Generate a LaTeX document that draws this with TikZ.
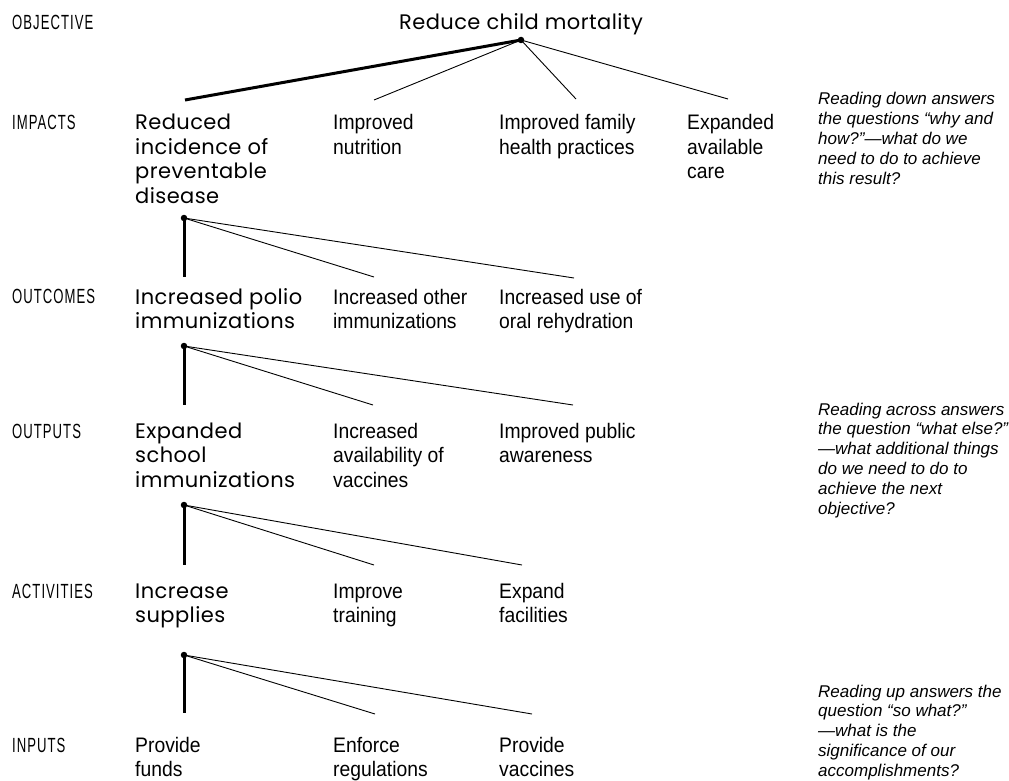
\documentclass[tikz,border=0pt]{standalone}
\usepackage{fontspec}
\setmainfont{Liberation Sans}
\newfontfamily\rowfont[FakeStretch=0.64,LetterSpace=5]{Liberation Sans}
\newfontfamily\geofont[LetterSpace=2]{Poppins}
\newfontfamily\narrowfont[FakeStretch=0.92]{Liberation Sans}
% lines stacked from the first baseline down
\newcommand\stacked[1]{\begin{tabular}[t]{@{}l@{}}#1\end{tabular}}

\tikzset{
  rowlabel/.style={anchor=base west,inner sep=0pt,font=\rowfont\fontsize{20.5}{20.5}\selectfont},
  mainbox/.style={anchor=base west,inner sep=0pt,font=\geofont\fontsize{21}{24.5}\selectfont},
  sidebox/.style={anchor=base west,inner sep=0pt,font=\narrowfont\fontsize{21}{24.5}\selectfont},
  note/.style={anchor=base west,inner sep=0pt,font=\itshape\fontsize{17}{19.9}\selectfont},
  dot/.style={circle,fill,inner sep=0pt,minimum size=6.5pt},
  main link/.style={line width=3pt},
  side link/.style={line width=0.9pt}
}

\begin{document}
\begin{tikzpicture}[x=1pt,y=-1pt]
	\useasboundingbox (0,0) rectangle (1009,781);
	% row labels
	\node[rowlabel] (objlab) at (12,30) {OBJECTIVE};
	\node[rowlabel] (implab) at (12,130) {IMPACTS};
	\node[rowlabel] (outclab) at (12,303) {OUTCOMES};
	\node[rowlabel] (outplab) at (12,438) {OUTPUTS};
	\node[rowlabel] (actlab) at (12,598) {ACTIVITIES};
	\node[rowlabel] (inplab) at (12,752) {INPUTS};

	% objective
	\node[mainbox,anchor=base] (obj) at (521,30) {Reduce child mortality};
	\node[dot] (objdot) at (521,40) {};

	% impacts
	\node[mainbox] (imp1) at (135,130) {\stacked{Reduced\\incidence of\\preventable\\disease}};
	\node[sidebox] (imp2) at (333,130) {\stacked{Improved\\nutrition}};
	\node[sidebox] (imp3) at (499,130) {\stacked{Improved family\\health practices}};
	\node[sidebox] (imp4) at (687,130) {\stacked{Expanded\\available\\care}};
	\coordinate (imp1top) at (185,100);
	\coordinate (imp2top) at (374,100);
	\coordinate (imp3top) at (576,99);
	\coordinate (imp4top) at (728,99);
	\draw[main link] (objdot.center) -- (imp1top);
	\draw[side link] (objdot.center) -- (imp2top);
	\draw[side link] (objdot.center) -- (imp3top);
	\draw[side link] (objdot.center) -- (imp4top);
	\node[dot] (impdot) at (184,218) {};

	% outcomes
	\node[mainbox] (outc1) at (135,304) {\stacked{Increased polio\\immunizations}};
	\node[sidebox] (outc2) at (333,304) {\stacked{Increased other\\immunizations}};
	\node[sidebox] (outc3) at (499,304) {\stacked{Increased use of\\oral rehydration}};
	\coordinate (outc1top) at (184,277);
	\coordinate (outc2top) at (374,277);
	\coordinate (outc3top) at (574,278);
	\draw[main link] (impdot.center) -- (outc1top);
	\draw[side link] (impdot.center) -- (outc2top);
	\draw[side link] (impdot.center) -- (outc3top);
	\node[dot] (outcdot) at (184,346) {};

	% outputs
	\node[mainbox] (outp1) at (135,438) {\stacked{Expanded\\school\\immunizations}};
	\node[sidebox] (outp2) at (333,438) {\stacked{Increased\\availability of\\vaccines}};
	\node[sidebox] (outp3) at (499,438) {\stacked{Improved public\\awareness}};
	\coordinate (outp1top) at (184,405);
	\coordinate (outp2top) at (373,405);
	\coordinate (outp3top) at (573,405);
	\draw[main link] (outcdot.center) -- (outp1top);
	\draw[side link] (outcdot.center) -- (outp2top);
	\draw[side link] (outcdot.center) -- (outp3top);
	\node[dot] (outpdot) at (184,505) {};

	% activities
	\node[mainbox] (act1) at (135,598) {\stacked{Increase\\supplies}};
	\node[sidebox] (act2) at (333,598) {\stacked{Improve\\training}};
	\node[sidebox] (act3) at (499,598) {\stacked{Expand\\facilities}};
	\coordinate (act1top) at (184,565);
	\coordinate (act2top) at (374,565);
	\coordinate (act3top) at (522,565);
	\draw[main link] (outpdot.center) -- (act1top);
	\draw[side link] (outpdot.center) -- (act2top);
	\draw[side link] (outpdot.center) -- (act3top);
	\node[dot] (actdot) at (184,655) {};

	% inputs
	\node[sidebox] (inp1) at (135,752) {\stacked{Provide\\funds}};
	\node[sidebox] (inp2) at (333,752) {\stacked{Enforce\\regulations}};
	\node[sidebox] (inp3) at (499,752) {\stacked{Provide\\vaccines}};
	\coordinate (inp1top) at (184,713);
	\coordinate (inp2top) at (375,714);
	\coordinate (inp3top) at (532,714);
	\draw[main link] (actdot.center) -- (inp1top);
	\draw[side link] (actdot.center) -- (inp2top);
	\draw[side link] (actdot.center) -- (inp3top);

	% reading notes
	\node[note] (downnote) at (818,105) {\stacked{Reading down answers\\the questions “why and\\how?”—what do we\\need to do to achieve\\this result?}};
	\node[note] (acrossnote) at (818,415) {\stacked{Reading across answers\\the question “what else?”\\—what additional things\\do we need to do to\\achieve the next\\objective?}};
	\node[note] (upnote) at (818,697) {\stacked{Reading up answers the\\question “so what?”\\—what is the\\significance of our\\accomplishments?}};
\end{tikzpicture}
\end{document}
